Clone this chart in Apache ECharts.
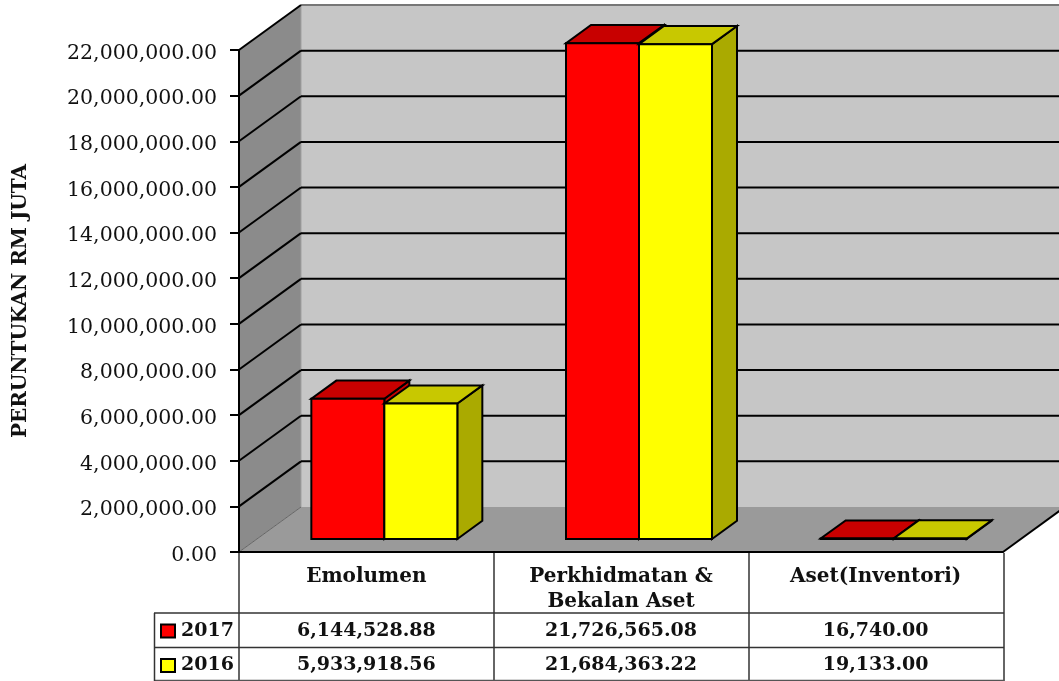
<!DOCTYPE html>
<html><head><meta charset="utf-8">
<style>html,body{margin:0;padding:0;background:#fff;overflow:hidden}#c{width:1059px;height:681px}</style>
<script src="https://cdn.jsdelivr.net/npm/echarts@6/dist/echarts.min.js"></script>
</head><body><div id="c"></div>
<script>
const categories = ['Emolumen', 'Perkhidmatan &\nBekalan Aset', 'Aset(Inventori)'];
const seriesNames = ['2017', '2016'];
const values2017 = [6144528.88, 21726565.08, 16740.00];
const values2016 = [5933918.56, 21684363.22, 19133.00];
const yTicks = [0, 2000000, 4000000, 6000000, 8000000, 10000000, 12000000, 14000000, 16000000, 18000000, 20000000, 22000000];
const yMax = 22000000, yStep = 2000000;
const yTitle = 'PERUNTUKAN RM JUTA';

const FONT = '"DejaVu Serif"';
const DX = 62, DY = -45;              // full floor depth
const BAR_OFF = 18 / 62, BAR_DEPTH = 25 / 62, BAR_FRAC = 73 / 254.67;
const fmt = v => v.toLocaleString('en-US', {minimumFractionDigits: 2, maximumFractionDigits: 2});
const LINE = '#000';

function poly(points, fill, stroke, lw) {
  return {type: 'polygon', shape: {points}, style: {fill, stroke: stroke || 'none', lineWidth: lw || 0}};
}
function seg(a, b, color, lw) {
  return {type: 'line', shape: {x1: a[0], y1: a[1], x2: b[0], y2: b[1]}, style: {stroke: color, lineWidth: lw, fill: 'none'}};
}

function renderWalls(params, api) {
  const bl = api.coord([0, 0]), band = api.size([1, 0])[0];
  const x0 = bl[0] - band / 2, x1 = x0 + band * categories.length;
  const yb = bl[1], yt = api.coord([0, yMax])[1];
  return {type: 'group', children: [
    poly([[x0 + DX, yb + DY], [x1 + DX, yb + DY], [x1 + DX, yt + DY], [x0 + DX, yt + DY]], '#c6c6c6'),
    poly([[x0, yb], [x0 + DX, yb + DY], [x0 + DX, yt + DY], [x0, yt]], '#8b8b8b'),
    poly([[x0, yb], [x1, yb], [x1 + DX, yb + DY], [x0 + DX, yb + DY]], '#9a9a9a'),
    seg([x0 + DX, yt + DY], [x0 + DX, yb + DY], '#9f9f9f', 1),
    seg([x0, yb], [x0 + DX, yb + DY], '#666', 1),
    seg([x0 + DX, yt + DY], [x1 + DX, yt + DY], '#777', 2),
    seg([x1, yb], [x1 + DX, yb + DY], LINE, 2)
  ]};
}
function renderGrid(params, api) {
  const v = api.value(0);
  if (v === 0) return {type: 'group', children: []};
  const p = api.coord([0, v]), band = api.size([1, 0])[0];
  const x0 = p[0] - band / 2, x1 = x0 + band * categories.length, y = p[1];
  const kids = [seg([x0, y], [x0 + DX, y + DY], LINE, 2)];
  if (v !== yMax) kids.push(seg([x0 + DX, y + DY], [x1 + DX, y + DY], LINE, 2));
  return {type: 'group', children: kids};
}
function makeBar(offsetIndex, front, top, side) {
  return function (params, api) {
    const i = api.value(0), v = api.value(1);
    const base = api.coord([i, 0]), tip = api.coord([i, v]), band = api.size([1, 0])[0];
    const w = band * BAR_FRAC;
    const ox = DX * BAR_OFF, oy = DY * BAR_OFF;
    const dx = DX * BAR_DEPTH, dy = DY * BAR_DEPTH;
    const x = base[0] + ox - w + offsetIndex * w, yb = base[1] + oy, yt = tip[1] + oy;
    const s = '#000', lw = 2;
    return {type: 'group', children: [
      poly([[x + w, yb], [x + w + dx, yb + dy], [x + w + dx, yt + dy], [x + w, yt]], side, s, lw),
      poly([[x, yt], [x + w, yt], [x + w + dx, yt + dy], [x + dx, yt + dy]], top, s, lw),
      poly([[x, yb], [x + w, yb], [x + w, yt], [x, yt]], front, s, lw)
    ]};
  };
}
const ROW_Y = [631, 665.5];
function renderCells(rowIndex) {
  return function (params, api) {
    const p = api.coord([api.value(0), 0]);
    return {type: 'text', x: p[0], y: ROW_Y[rowIndex], style: {
      text: fmt(api.value(1)), fill: '#111', font: 'bold 19px ' + FONT, align: 'center', verticalAlign: 'middle'
    }};
  };
}
const gl = (x1, y1, x2, y2, c) => ({type: 'line', silent: true, z: 5,
  shape: {x1, y1, x2, y2}, style: {stroke: c || '#333', lineWidth: 1.5}});
const vlines = [239, 494, 749, 1004].map(x => gl(x, 553, x, 681));
const hlines = [613, 647.5].map(y => gl(154, y, 1004, y)).concat([gl(154, 680.5, 1004, 680.5, '#555'), gl(154.5, 613, 154.5, 681)]);
const keys = [['#ff0000', 2017], ['#ffff00', 2016]].flatMap((k, r) => [
  {type: 'rect', z: 5, shape: {x: 161, y: ROW_Y[r] - 6.5, width: 14, height: 13}, style: {fill: k[0], stroke: '#000', lineWidth: 2}},
  {type: 'text', z: 5, x: 181, y: ROW_Y[r], style: {text: seriesNames[r], fill: '#111', font: 'bold 19px ' + FONT, textAlign: 'left', textVerticalAlign: 'middle'}}
]);

const chart = echarts.init(document.getElementById('c'), null, {renderer: 'canvas'});
const cellData = a => a.map((v, i) => [i, v]);
chart.setOption({
  animation: false,
  backgroundColor: '#fff',
  grid: {left: 239, top: 50, width: 764, height: 502, containLabel: false},
  xAxis: {type: 'category', data: categories, z: 3,
    axisLine: {show: true, lineStyle: {color: '#000', width: 2}}, axisTick: {show: false},
    axisLabel: {margin: 12, interval: 0, color: '#111', fontFamily: FONT, fontWeight: 'bold', fontSize: 20, lineHeight: 25, verticalAlign: 'top'}},
  yAxis: {type: 'value', min: 0, max: yMax, interval: yStep, z: 3,
    name: yTitle, nameLocation: 'middle', nameRotate: 90, nameGap: 208,
    nameTextStyle: {color: '#111', fontFamily: FONT, fontWeight: 'bold', fontSize: 20},
    axisLine: {show: true, lineStyle: {color: '#000', width: 2}},
    axisTick: {show: true, length: 9, lineStyle: {color: '#000', width: 2}},
    splitLine: {show: false},
    axisLabel: {margin: 22, color: '#111', fontFamily: FONT, fontSize: 20.5, formatter: v => '{a|' + fmt(v) + '}',
      rich: {a: {fontFamily: FONT, fontSize: 20.5, color: '#111', padding: [7, 0, 0, 0]}}}},
  graphic: {elements: vlines.concat(hlines, keys)},
  series: [
    {type: 'custom', name: 'walls', coordinateSystem: 'cartesian2d', clip: false, silent: true, z: 1, data: [[0, 0]], renderItem: renderWalls, encode: {x: 0, y: 1}},
    {type: 'custom', name: 'grid', coordinateSystem: 'cartesian2d', clip: false, silent: true, z: 1, data: yTicks.map(v => [v]), renderItem: renderGrid, encode: {y: 0}},
    {type: 'custom', name: seriesNames[0], clip: false, z: 2, data: cellData(values2017), renderItem: makeBar(0, '#ff0000', '#c80000', '#c80000'), encode: {x: 0, y: 1}},
    {type: 'custom', name: seriesNames[1], clip: false, z: 2, data: cellData(values2016), renderItem: makeBar(1, '#ffff00', '#c8c800', '#aaaa00'), encode: {x: 0, y: 1}},
    {type: 'custom', name: 'row2017', clip: false, silent: true, z: 6, data: cellData(values2017), renderItem: renderCells(0), encode: {x: 0, y: 1}},
    {type: 'custom', name: 'row2016', clip: false, silent: true, z: 6, data: cellData(values2016), renderItem: renderCells(1), encode: {x: 0, y: 1}}
  ]
});
</script></body></html>
